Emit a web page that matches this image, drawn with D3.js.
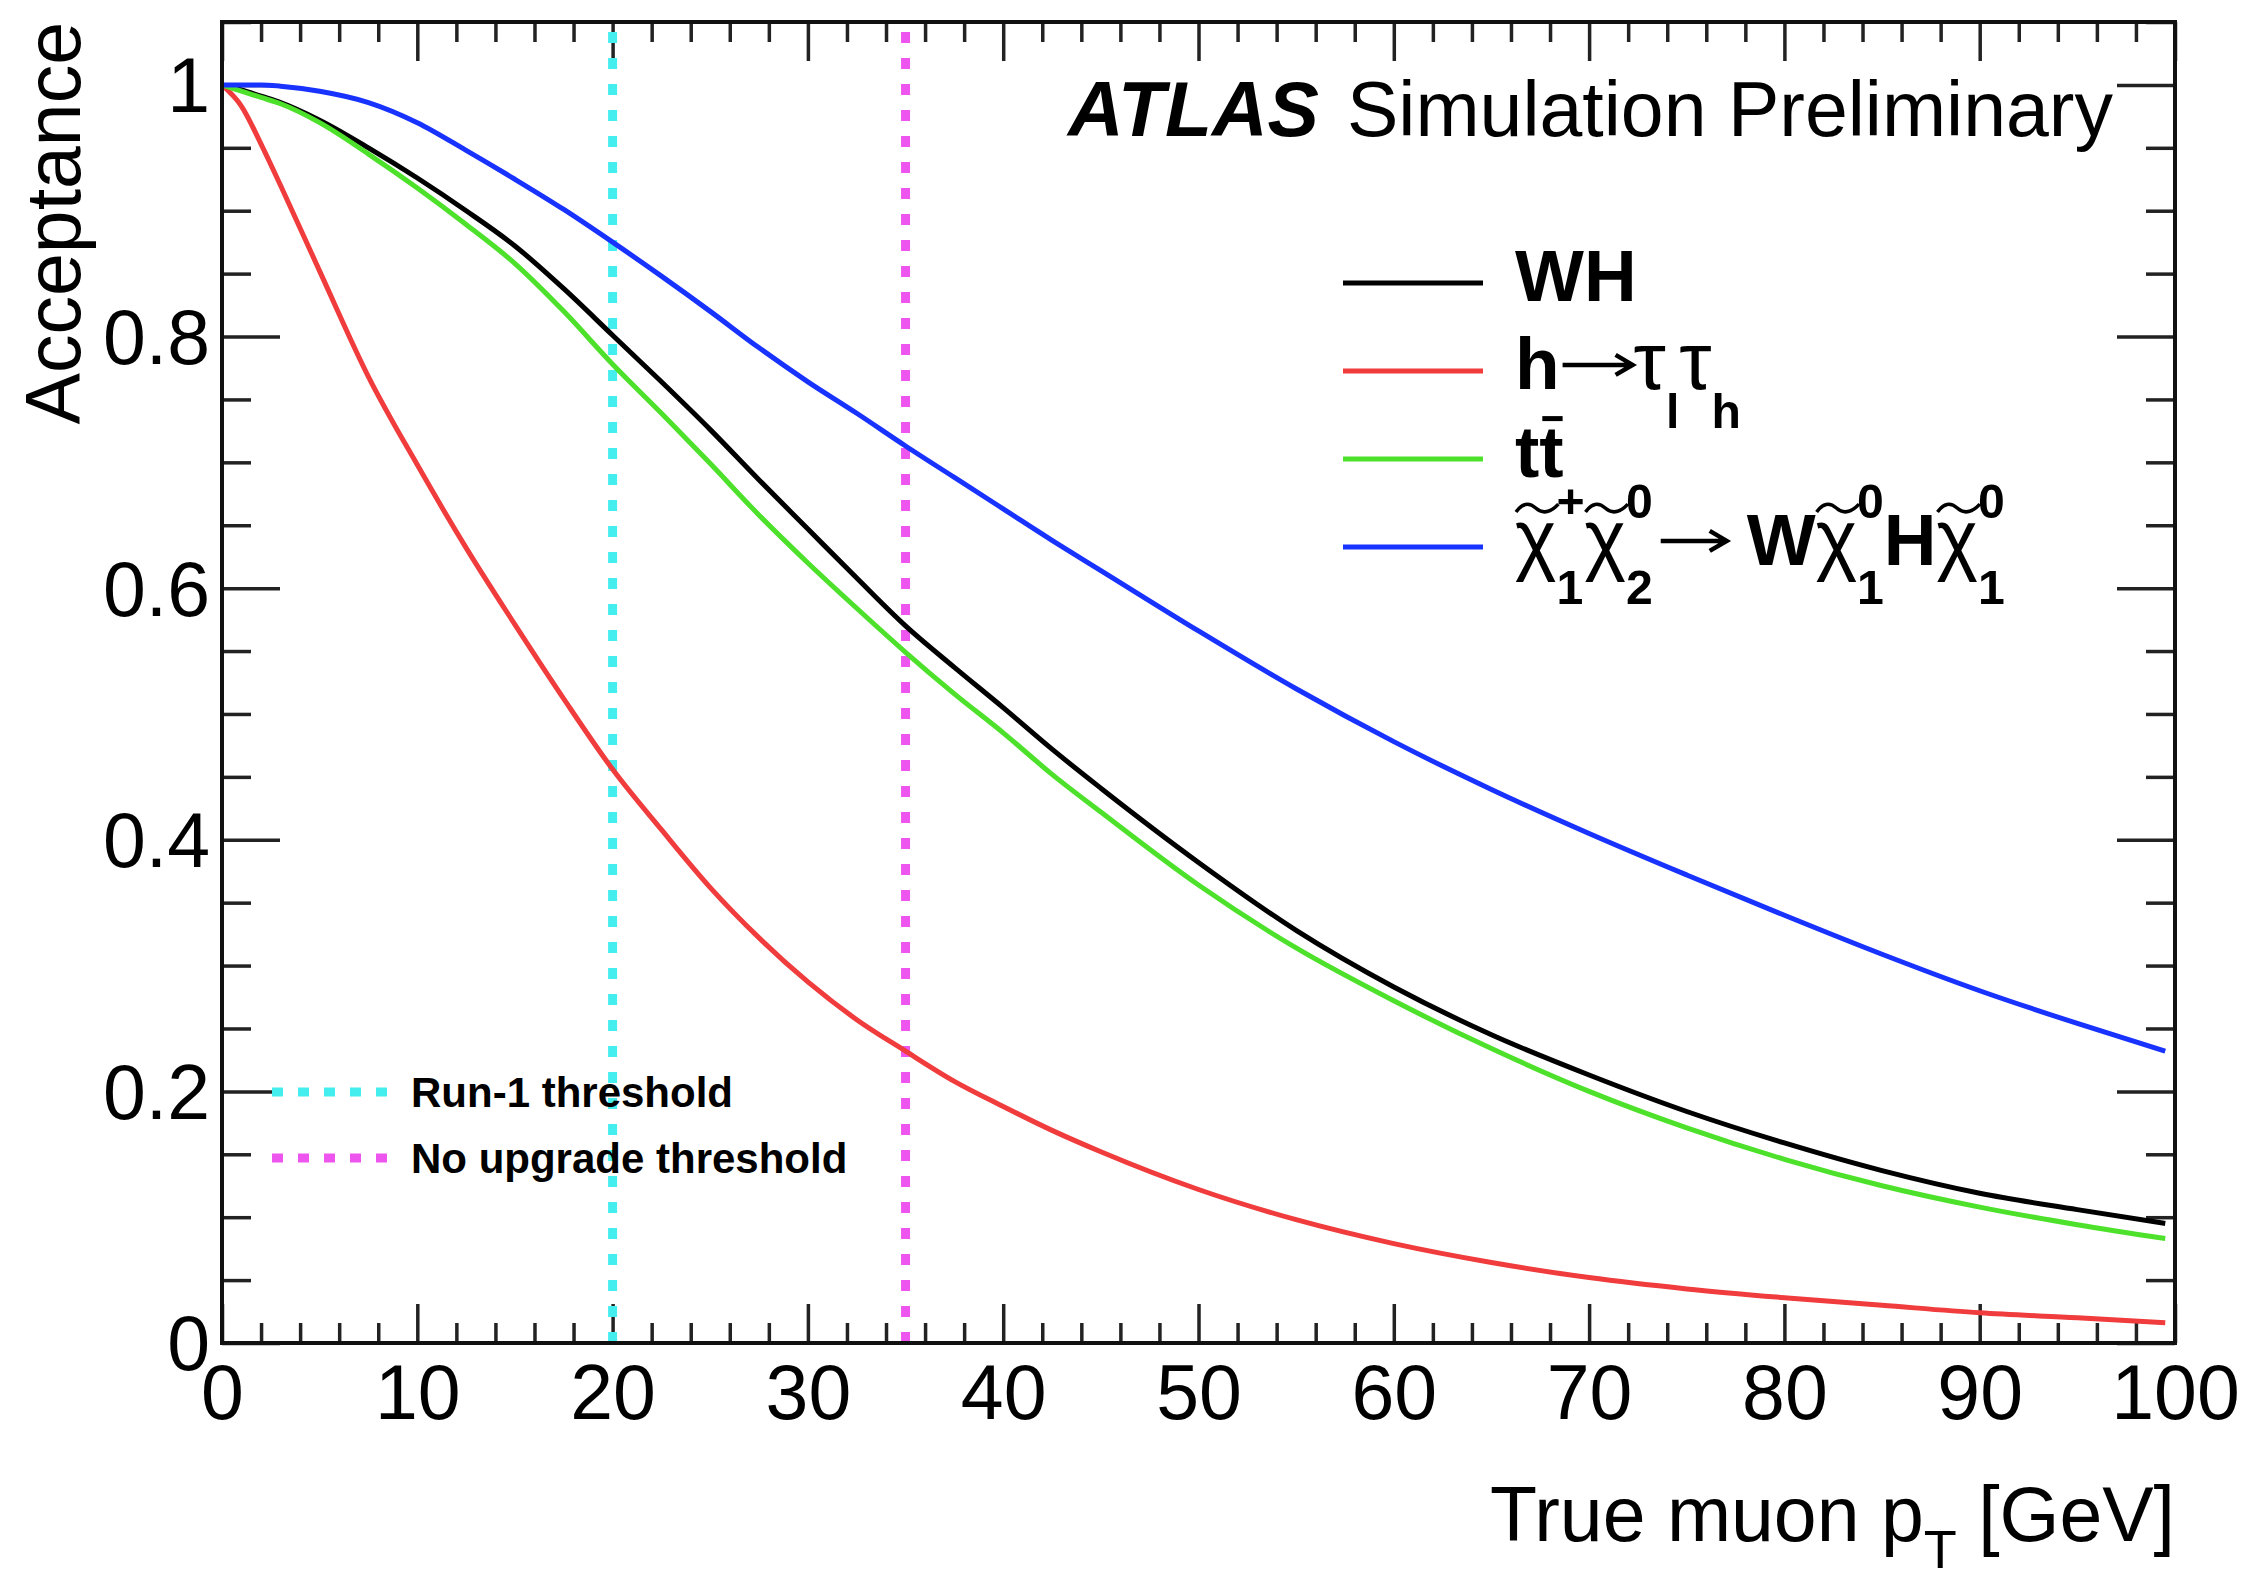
<!DOCTYPE html>
<html>
<head>
<meta charset="utf-8">
<script src="https://cdn.jsdelivr.net/npm/d3@7"></script>
<style>
  body { margin: 0; background: #fff; }
  svg { display: block; }
</style>
</head>
<body>
<div id="chart"></div>
<script>
// ---- data ----
const truePt = [0, 1, 2, 3, 5, 7.5, 10, 12.5, 15, 17.5, 20, 22.5, 25, 27.5, 30, 32.5, 35, 37.5, 40, 42.5, 45, 50, 55, 60, 65, 70, 75, 80, 85, 90, 95, 99.5];
const accWH   = [1.000, 0.996, 0.991, 0.986, 0.972, 0.950, 0.926, 0.900, 0.872, 0.838, 0.801, 0.764, 0.726, 0.686, 0.647, 0.608, 0.570, 0.537, 0.505, 0.472, 0.441, 0.382, 0.328, 0.283, 0.245, 0.213, 0.184, 0.159, 0.137, 0.119, 0.106, 0.095];
const accHtt  = [1.000, 0.983, 0.953, 0.920, 0.852, 0.768, 0.698, 0.632, 0.571, 0.512, 0.456, 0.408, 0.362, 0.322, 0.287, 0.257, 0.232, 0.208, 0.188, 0.169, 0.152, 0.122, 0.098, 0.079, 0.064, 0.052, 0.043, 0.036, 0.030, 0.024, 0.020, 0.016];
const accTT   = [1.000, 0.995, 0.990, 0.985, 0.970, 0.945, 0.918, 0.889, 0.858, 0.820, 0.778, 0.739, 0.699, 0.658, 0.620, 0.584, 0.549, 0.516, 0.485, 0.452, 0.422, 0.364, 0.314, 0.272, 0.234, 0.200, 0.171, 0.146, 0.125, 0.108, 0.094, 0.083];
const accC1N2 = [1.000, 1.000, 1.000, 0.999, 0.995, 0.986, 0.970, 0.948, 0.925, 0.901, 0.875, 0.848, 0.820, 0.791, 0.764, 0.739, 0.713, 0.688, 0.663, 0.638, 0.614, 0.566, 0.520, 0.478, 0.440, 0.405, 0.372, 0.340, 0.309, 0.280, 0.254, 0.232];

const seriesNames  = ["WH", "htautau", "ttbar", "c1n2"];
const seriesColors = ["#000000", "#f03c3c", "#4ee12c", "#1832ff"];

const thresholdValues = [20, 35];
const thresholdLabels = ["Run-1 threshold", "No upgrade threshold"];
const thresholdColors = ["#44eeee", "#ee55ee"];

const xMajor = [0, 10, 20, 30, 40, 50, 60, 70, 80, 90, 100];
const yMajor = [0, 0.2, 0.4, 0.6, 0.8, 1];

// ---- layout ----
const width = 2247, height = 1582;
const fr = {left: 222, right: 2175, top: 22, bottom: 1343};
const font = "'Liberation Sans', Arial, Helvetica, sans-serif";
const labelSize = 77;

const x = d3.scaleLinear().domain([0, 100]).range([fr.left, fr.right]);
const y = d3.scaleLinear().domain([0, 1.05]).range([fr.bottom, fr.top]);

const svg = d3.select("#chart").append("svg")
  .attr("width", width)
  .attr("height", height)
  .style("font-family", font);

svg.append("rect").attr("width", width).attr("height", height).attr("fill", "#fff");

// minor tick values
const xMinor = d3.range(0, 101, 2).filter(v => v % 10 !== 0);
const yMinor = d3.range(1, 22).map(i => i * 0.05).filter(v => Math.abs(v * 5 - Math.round(v * 5)) > 1e-6);

function ticks(axisFn, pos, vals, len) {
  const g = svg.append("g")
    .attr("transform", pos)
    .call(axisFn.tickValues(vals).tickSizeInner(-len).tickSizeOuter(0).tickFormat(""));
  g.select(".domain").remove();
  g.selectAll("line").attr("stroke", "#222").attr("stroke-width", 3.5);
}
ticks(d3.axisBottom(x), `translate(0,${fr.bottom})`, xMajor, 39);
ticks(d3.axisBottom(x), `translate(0,${fr.bottom})`, xMinor, 20);
ticks(d3.axisTop(x), `translate(0,${fr.top})`, xMajor, 39);
ticks(d3.axisTop(x), `translate(0,${fr.top})`, xMinor, 20);
ticks(d3.axisLeft(y), `translate(${fr.left},0)`, yMajor, 58);
ticks(d3.axisLeft(y), `translate(${fr.left},0)`, yMinor, 29);
ticks(d3.axisRight(y), `translate(${fr.right},0)`, yMajor, 58);
ticks(d3.axisRight(y), `translate(${fr.right},0)`, yMinor, 29);

// tick labels
const xLab = svg.append("g")
  .attr("transform", `translate(0,${fr.bottom})`)
  .call(d3.axisBottom(x).tickValues(xMajor).tickSize(0).tickPadding(21).tickFormat(d3.format("~g")));
xLab.select(".domain").remove();
xLab.selectAll("text").attr("font-size", labelSize).attr("font-family", font).attr("fill", "#000");

const yLab = svg.append("g")
  .attr("transform", `translate(${fr.left},0)`)
  .call(d3.axisLeft(y).tickValues(yMajor).tickSize(0).tickPadding(12).tickFormat(d3.format("~g")));
yLab.select(".domain").remove();
yLab.selectAll("text").attr("font-size", labelSize).attr("font-family", font).attr("fill", "#000").attr("dy", "0.35em");

// axis titles
svg.append("text")
  .attr("transform", `translate(80,${fr.top}) rotate(-90)`)
  .attr("text-anchor", "end")
  .attr("font-size", labelSize)
  .text("Acceptance");

const xt = svg.append("text")
  .attr("x", fr.right).attr("y", 1541)
  .attr("text-anchor", "end")
  .attr("font-size", labelSize);
xt.append("tspan").text("True muon p");
xt.append("tspan").attr("dy", 27).attr("font-size", 54).text("T");
xt.append("tspan").attr("dy", -27).text(" [GeV]");

// threshold lines
svg.append("g").selectAll("line")
  .data(thresholdValues)
  .join("line")
    .attr("x1", d => x(d)).attr("x2", d => x(d))
    .attr("y1", y(0)).attr("y2", y(1.05))
    .attr("stroke", (d, i) => thresholdColors[i])
    .attr("stroke-width", 9)
    .attr("stroke-dasharray", "11,15");

// curves
const allSeries = [accWH, accHtt, accTT, accC1N2];
const line = d3.line()
  .x((d, i) => x(truePt[i]))
  .y(d => y(d))
  .curve(d3.curveMonotoneX);

svg.append("g").attr("fill", "none").attr("stroke-width", 5)
  .selectAll("path")
  .data(allSeries)
  .join("path")
    .attr("stroke", (d, i) => seriesColors[i])
    .attr("stroke-linejoin", "round")
    .attr("d", line);

// frame
svg.append("rect")
  .attr("x", fr.left).attr("y", fr.top)
  .attr("width", fr.right - fr.left).attr("height", fr.bottom - fr.top)
  .attr("fill", "none").attr("stroke", "#111").attr("stroke-width", 4);

// ATLAS label
svg.append("text").attr("x", 1068).attr("y", 136)
  .attr("font-size", labelSize).attr("font-weight", "bold").attr("font-style", "italic")
  .text("ATLAS");
svg.append("text").attr("x", 1347).attr("y", 136)
  .attr("font-size", labelSize)
  .text("Simulation Preliminary");

// ---- rich text helper for the legend (sub/superscripts, tilde, bar, arrow) ----
function richText(g, x0, base, parts, size) {
  let cx = x0;
  const sSize = size * 0.66;
  parts.forEach(p => {
    if (p.arrow) {
      const ya = base - size * 0.33, x1 = cx + p.pre, x2 = x1 + p.len;
      g.append("path")
        .attr("d", `M${x1},${ya}H${x2 - 2}M${x2 - 17},${ya - 10}L${x2},${ya}L${x2 - 17},${ya + 10}`)
        .attr("fill", "none").attr("stroke", "#000").attr("stroke-width", 4.5);
      cx = x2 + p.post;
    } else if (p.sub != null || p.sup != null) {
      let w = 0;
      [[p.sub, size * 0.54], [p.sup, -size * 0.64]].forEach(([s, dy]) => {
        if (s == null) return;
        const t = g.append("text").attr("x", cx).attr("y", base + dy)
          .attr("font-size", sSize).attr("font-weight", "bold").text(s);
        w = Math.max(w, t.node().getComputedTextLength());
      });
      cx += w;
    } else {
      const fs = size * (p.scale || 1);
      const t = g.append("text").attr("x", cx).attr("y", base)
        .attr("font-size", fs).attr("font-weight", p.w || "bold").text(p.t);
      const w = t.node().getComputedTextLength();
      if (p.tilde) {
        const yT = base - size * 0.78, a = size * 0.09;
        const pth = d3.path();
        pth.moveTo(cx + 1, yT + a * 0.6);
        pth.quadraticCurveTo(cx + w * 0.25, yT - a * 1.4, cx + w * 0.5, yT);
        pth.quadraticCurveTo(cx + w * 0.75, yT + a * 1.4, cx + w + 2, yT - a * 0.6);
        g.append("path").attr("d", pth.toString()).attr("fill", "none")
          .attr("stroke", "#000").attr("stroke-width", 3.5);
      }
      if (p.bar) {
        const yb = base - size * 0.8;
        g.append("line").attr("x1", cx + 3).attr("x2", cx + w - 1)
          .attr("y1", yb).attr("y2", yb).attr("stroke", "#000").attr("stroke-width", 5);
      }
      cx += w;
    }
  });
}

const chi = {t: "χ", w: "normal", tilde: true, scale: 1.08};
const tau = {t: "τ", w: "normal", scale: 1.12};
const legendLabels = [
  [{t: "WH"}],
  [{t: "h"}, {arrow: true, pre: 3, len: 70, post: 1}, tau, {sub: "l"}, tau, {sub: "h"}],
  [{t: "t"}, {t: "t", bar: true}],
  [chi, {sub: "1", sup: "+"}, chi, {sub: "2", sup: "0"},
   {arrow: true, pre: 8, len: 66, post: 20}, {t: "W"}, chi, {sub: "1", sup: "0"},
   {t: "H"}, chi, {sub: "1", sup: "0"}]
];
const legY = d3.scaleLinear().domain([0, 3]).range([283, 547]);

const leg = svg.append("g");
seriesNames.forEach((name, i) => {
  leg.append("line")
    .attr("x1", 1343).attr("x2", 1483)
    .attr("y1", legY(i)).attr("y2", legY(i))
    .attr("stroke", seriesColors[i]).attr("stroke-width", 5);
  richText(leg, 1515, legY(i) + 18, legendLabels[i], 73);
});

// threshold legend
const leg2Y = d3.scaleLinear().domain([0, 1]).range([1092, 1158]);
const leg2 = svg.append("g");
thresholdLabels.forEach((lab, i) => {
  leg2.append("line")
    .attr("x1", 272).attr("x2", 390)
    .attr("y1", leg2Y(i)).attr("y2", leg2Y(i))
    .attr("stroke", thresholdColors[i]).attr("stroke-width", 9)
    .attr("stroke-dasharray", "11,15");
  leg2.append("text")
    .attr("x", 411).attr("y", leg2Y(i) + 15)
    .attr("font-size", 42).attr("font-weight", "bold")
    .text(lab);
});
</script>
</body>
</html>
